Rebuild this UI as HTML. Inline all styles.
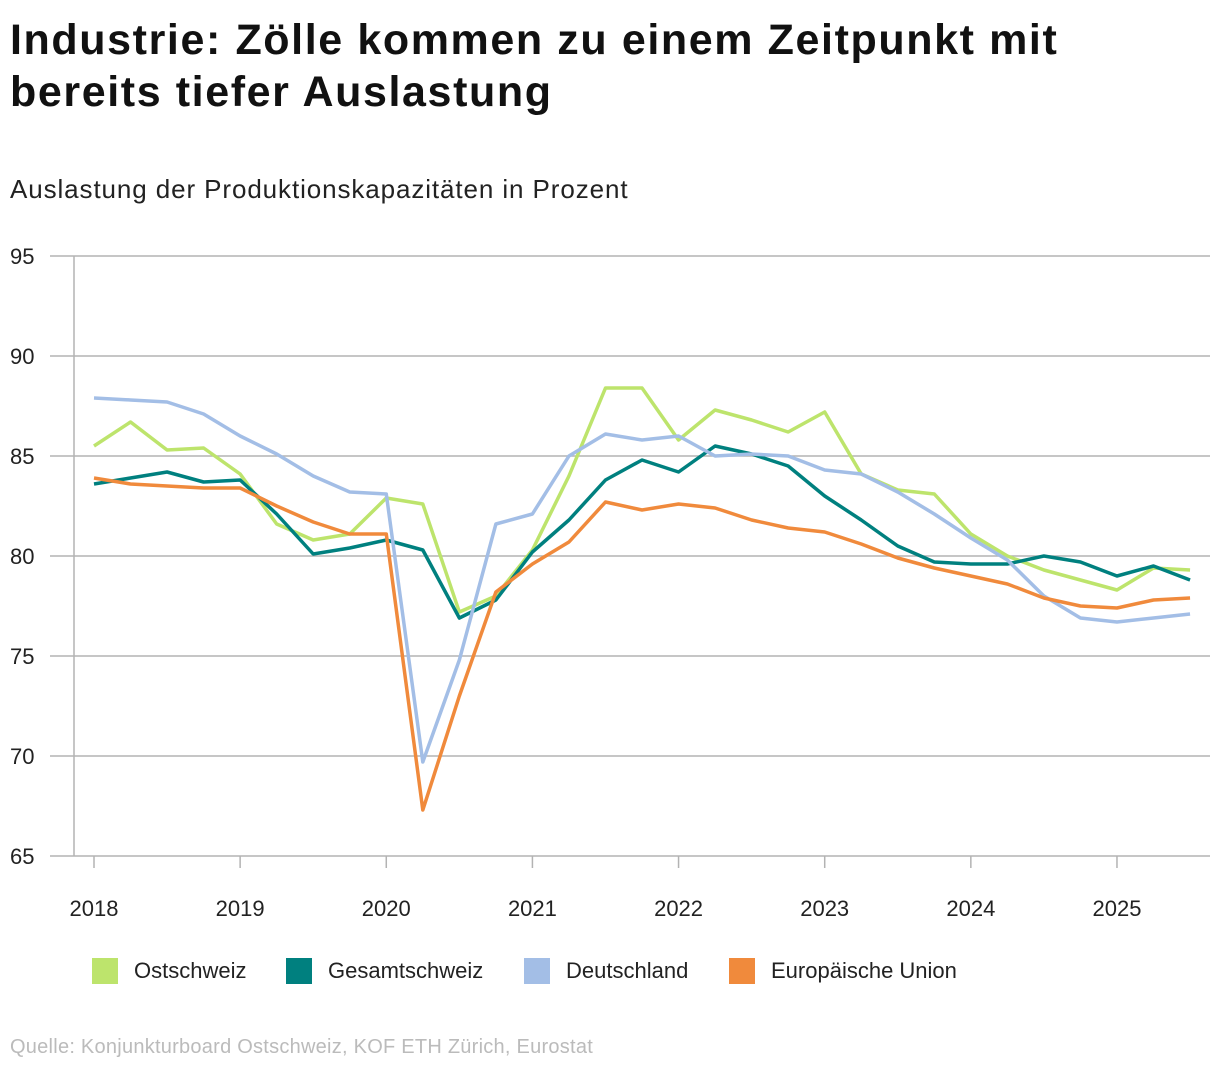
<!DOCTYPE html>
<html><head><meta charset="utf-8">
<style>
body{margin:0;background:#fff;font-family:"Liberation Sans",sans-serif;}
#wrap{position:relative;width:1220px;height:1070px;overflow:hidden;}
h1{position:absolute;left:10px;top:14px;margin:0;font-size:43px;line-height:52px;font-weight:bold;color:#111;letter-spacing:1.6px;}
.sub{position:absolute;left:10px;top:174px;font-size:26px;color:#222;letter-spacing:0.9px;}
.src{position:absolute;left:10px;top:1036px;font-size:20px;color:#bbb;letter-spacing:0.25px;}
.leg{position:absolute;top:958px;font-size:22px;color:#222;display:flex;align-items:center;}
.leg span.sw{display:inline-block;width:26px;height:26px;margin-right:16px;}
</style></head><body>
<div id="wrap">
<h1>Industrie: Zölle kommen zu einem Zeitpunkt mit<br>bereits tiefer Auslastung</h1>
<div class="sub">Auslastung der Produktionskapazitäten in Prozent</div>
<svg id="chart" width="1220" height="1070" style="position:absolute;left:0;top:0"></svg>
<div class="leg" style="left:92px"><span class="sw" style="background:#bde46c"></span>Ostschweiz</div>
<div class="leg" style="left:286px"><span class="sw" style="background:#00807f"></span>Gesamtschweiz</div>
<div class="leg" style="left:524px"><span class="sw" style="background:#a3bee6"></span>Deutschland</div>
<div class="leg" style="left:729px"><span class="sw" style="background:#f08a3c"></span>Europäische Union</div>
<div class="src">Quelle: Konjunkturboard Ostschweiz, KOF ETH Zürich, Eurostat</div>
</div>
<script>
const yTicks=[65,70,75,80,85,90,95];
const years=[2018,2019,2020,2021,2022,2023,2024,2025];
const ostschweiz=[85.5,86.7,85.3,85.4,84.1,81.6,80.8,81.1,82.9,82.6,77.2,78.0,80.3,84.0,88.4,88.4,85.8,87.3,86.8,86.2,87.2,84.1,83.3,83.1,81.1,80.0,79.3,78.8,78.3,79.4,79.3];
const gesamtschweiz=[83.6,83.9,84.2,83.7,83.8,82.1,80.1,80.4,80.8,80.3,76.9,77.8,80.2,81.8,83.8,84.8,84.2,85.5,85.1,84.5,83.0,81.8,80.5,79.7,79.6,79.6,80.0,79.7,79.0,79.5,78.8];
const deutschland=[87.9,87.8,87.7,87.1,86.0,85.1,84.0,83.2,83.1,69.7,74.8,81.6,82.1,85.0,86.1,85.8,86.0,85.0,85.1,85.0,84.3,84.1,83.2,82.1,80.9,79.8,78.0,76.9,76.7,76.9,77.1];
const eu=[83.9,83.6,83.5,83.4,83.4,82.5,81.7,81.1,81.1,67.3,73.0,78.2,79.6,80.7,82.7,82.3,82.6,82.4,81.8,81.4,81.2,80.6,79.9,79.4,79.0,78.6,77.9,77.5,77.4,77.8,77.9];

const svg=document.getElementById('chart');
const NS='http://www.w3.org/2000/svg';
const y=v=>856-(v-65)*20;
const x=t=>94+(t-2018)*146.14;
const xi=i=>x(2018+i/4);
function mk(tag,attrs){const e=document.createElementNS(NS,tag);for(const k in attrs)e.setAttribute(k,attrs[k]);svg.appendChild(e);return e;}
yTicks.forEach(v=>{
  const l=mk('line',{x1:50,x2:1210,y1:y(v),y2:y(v),stroke:'#b3b3b3','stroke-width':1.5});
  
  
  const t=mk('text',{x:10,y:y(v)+8,'font-size':22,fill:'#222','font-family':'Liberation Sans, sans-serif'});
  t.textContent=v;
  
  
});
const ax=mk('line',{x1:74,x2:74,y1:256,y2:856,stroke:'#b3b3b3','stroke-width':1.5});


years.forEach(yr=>{
  const tk=mk('line',{x1:x(yr),x2:x(yr),y1:856,y2:868,stroke:'#b3b3b3','stroke-width':1.5});
  
  
  const t=mk('text',{x:x(yr),y:916,'font-size':22,fill:'#222','text-anchor':'middle','font-family':'Liberation Sans, sans-serif'});
  t.textContent=yr;
  
  
});
[[ostschweiz,'#bde46c','line-ostschweiz'],[gesamtschweiz,'#00807f','line-gesamtschweiz'],[deutschland,'#a3bee6','line-deutschland'],[eu,'#f08a3c','line-eu']].forEach(([d,c,n])=>{
  const p=mk('polyline',{points:d.map((v,i)=>xi(i)+','+y(v)).join(' '),fill:'none',stroke:c,'stroke-width':3.5,'stroke-linejoin':'round'});
  
  
});
</script>
</body></html>
